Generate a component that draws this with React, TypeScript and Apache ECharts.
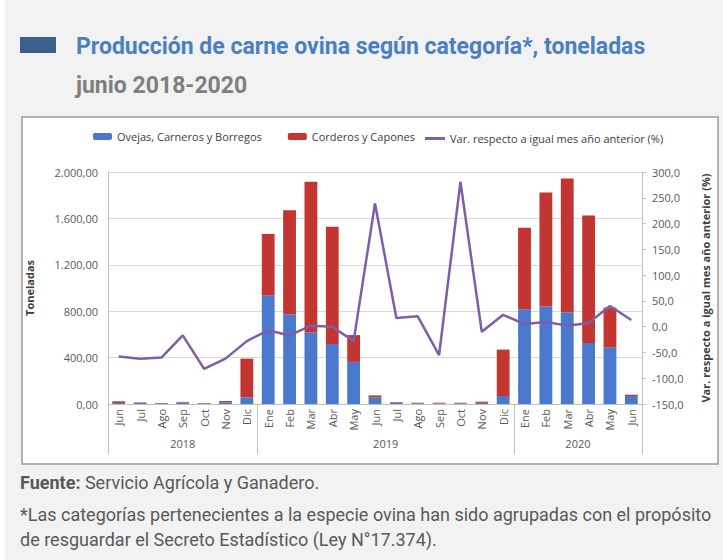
import React, { useEffect, useRef } from "react";
import * as echarts from "echarts";

const months = ["Jun","Jul","Ago","Sep","Oct","Nov","Dic","Ene","Feb","Mar","Abr","May","Jun","Jul","Ago","Sep","Oct","Nov","Dic","Ene","Feb","Mar","Abr","May","Jun"];
const years = ["2018", "2019", "2020"];
const yearMonthCounts = [7, 12, 6];
const ovejas = [8,10,2,14,3,14,57,937,771,617,517,363,57,14,6,6,6,10,69,817,840,791,526,486,69];
const corderos = [15,4,6,4,5,12,334,529,900,1300,1011,231,17,3,5,5,5,10,400,703,983,1152,1100,345,11];
const variacion = [-58,-62,-60,-17,-82,-62,-28,-7,-17,2,0,-28,239,17,20,-55,281,-10,23,5,9,2,7,40,13];

const seriesNames = ["Ovejas, Carneros y Borregos", "Corderos y Capones", "Var. respecto a igual mes año anterior (%)"];

const fmtLeft = (v: number) => {
  const parts = v.toFixed(2).split(".");
  const int = parts[0].replace(/\B(?=(\d{3})+(?!\d))/g, ".");
  return int + "," + parts[1];
};
const fmtRight = (v: number) => v.toFixed(1).replace(".", ",");

export default function App() {
  const ref = useRef<HTMLDivElement>(null);
  useEffect(() => {
    if (!ref.current) return;
    const chart = echarts.init(ref.current, null, { renderer: "svg" });
    const boundaries: number[] = [0];
    const centers: number[] = [];
    let acc = 0;
    yearMonthCounts.forEach((c) => {
      centers.push(acc + c / 2);
      acc += c;
      boundaries.push(acc);
    });
    const labelColor = "#595959";
    const axisGray = "#bfbfbf";
    const font = "'Open Sans', sans-serif";
    const footSize = 18;
    const footFont = footSize + "px Roboto, sans-serif";
    chart.setOption({
      animation: false,
      textStyle: { fontFamily: font },
      graphic: [
        { type: "rect", silent: true, z: -10, shape: { x: 5, y: 0, width: 718, height: 560 }, style: { fill: "#f2f2f2" } },
        { type: "rect", silent: true, z: -9, shape: { x: 22, y: 117, width: 696, height: 347 }, style: { fill: "#ffffff", stroke: "#9a9a9a", lineWidth: 1.5 } },
        { type: "rect", silent: true, shape: { x: 20, y: 37, width: 36, height: 16 }, style: { fill: "#3a5f8c" } },
        { type: "text", x: 76, y: 46, style: { text: "Producción de carne ovina según categoría*, toneladas", fill: "#4a7fc1", font: "bold 23px Roboto, sans-serif", textVerticalAlign: "middle" } },
        { type: "text", x: 76, y: 85, style: { text: "junio 2018-2020", fill: "#7f7f7f", font: "bold 23px Roboto, sans-serif", textVerticalAlign: "middle" } },
        {
          type: "text", x: 20, y: 482,
          style: {
            text: "{b|Fuente:} Servicio Agrícola y Ganadero.",
            fill: "#595959", font: footFont, textVerticalAlign: "middle",
            rich: { b: { fontWeight: "bold", fontFamily: "Roboto, sans-serif", fontSize: footSize, fill: "#595959" } },
          },
        },
        { type: "text", x: 20, y: 514, style: { text: "*Las categorías pertenecientes a la especie ovina han sido agrupadas con el propósito", fill: "#595959", font: footFont, textVerticalAlign: "middle" } },
        { type: "text", x: 20, y: 539, style: { text: "de resguardar el Secreto Estadístico (Ley N°17.374).", fill: "#595959", font: footFont, textVerticalAlign: "middle" } },
      ],
      legend: [
        {
          top: 126,
          left: 88,
          itemWidth: 19,
          itemHeight: 7,
          itemGap: 26,
          textStyle: { fontSize: 11, color: "#404040", fontFamily: font },
          data: [seriesNames[0], seriesNames[1]],
        },
        {
          top: 128,
          left: 420,
          itemWidth: 20,
          itemHeight: 3,
          icon: "rect",
          textStyle: { fontSize: 11, color: "#404040", fontFamily: font },
          data: [seriesNames[2]],
        },
      ],
      grid: { left: 108, right: 81, top: 172, bottom: 156, containLabel: false },
      xAxis: [
        {
          type: "category",
          data: months,
          axisLine: { show: true, lineStyle: { color: axisGray } },
          axisTick: {
            show: true,
            length: 50,
            alignWithLabel: false,
            interval: (i: number) => boundaries.indexOf(i) >= 0,
            lineStyle: { color: axisGray },
          },
          axisLabel: { rotate: 90, interval: 0, fontSize: 11, color: labelColor, margin: 5 },
        },
        {
          type: "value",
          min: 0,
          max: months.length,
          position: "bottom",
          axisLine: { show: false },
          splitLine: { show: false },
          axisTick: { show: false },
          axisLabel: {
            customValues: centers,
            margin: 34,
            fontSize: 11,
            color: labelColor,
            formatter: (v: number) => {
              const i = centers.findIndex((c) => Math.abs(c - v) < 1e-6);
              return i >= 0 ? years[i] : "";
            },
          },
        },
      ],
      yAxis: [
        {
          type: "value",
          min: 0,
          max: 2000,
          interval: 400,
          name: "Toneladas",
          nameLocation: "middle",
          nameRotate: 90,
          nameGap: 73,
          nameTextStyle: { fontWeight: "bold", fontSize: 11, color: "#404040" },
          axisLine: { show: true, lineStyle: { color: axisGray } },
          axisTick: { show: false },
          splitLine: { show: true, lineStyle: { color: "#d9d9d9" } },
          axisLabel: { fontSize: 11, color: labelColor, margin: 10, formatter: fmtLeft },
        },
        {
          type: "value",
          min: -150,
          max: 300,
          interval: 50,
          position: "right",
          name: "Var. respecto a igual mes año anterior (%)",
          nameLocation: "middle",
          nameRotate: 90,
          nameGap: 58,
          nameTextStyle: { fontWeight: "bold", fontSize: 11, color: "#404040" },
          axisLine: { show: true, lineStyle: { color: axisGray } },
          axisTick: { show: true, length: 4, lineStyle: { color: axisGray } },
          splitLine: { show: false },
          axisLabel: { fontSize: 11, color: labelColor, margin: 10, formatter: fmtRight },
        },
      ],
      series: [
        { name: seriesNames[0], type: "bar", stack: "total", data: ovejas, barCategoryGap: "40%", itemStyle: { color: "#4a78cd" } },
        { name: seriesNames[1], type: "bar", stack: "total", data: corderos, barCategoryGap: "40%", itemStyle: { color: "#c23531" } },
        { name: seriesNames[2], type: "line", yAxisIndex: 1, data: variacion, symbol: "none", lineStyle: { color: "#7e5ea8", width: 2.5 }, itemStyle: { color: "#7e5ea8" } },
      ],
    });
    return () => chart.dispose();
  }, []);
  return <div ref={ref} style={{ position: "absolute", left: 0, top: 0, width: 723, height: 560 }} />;
}
